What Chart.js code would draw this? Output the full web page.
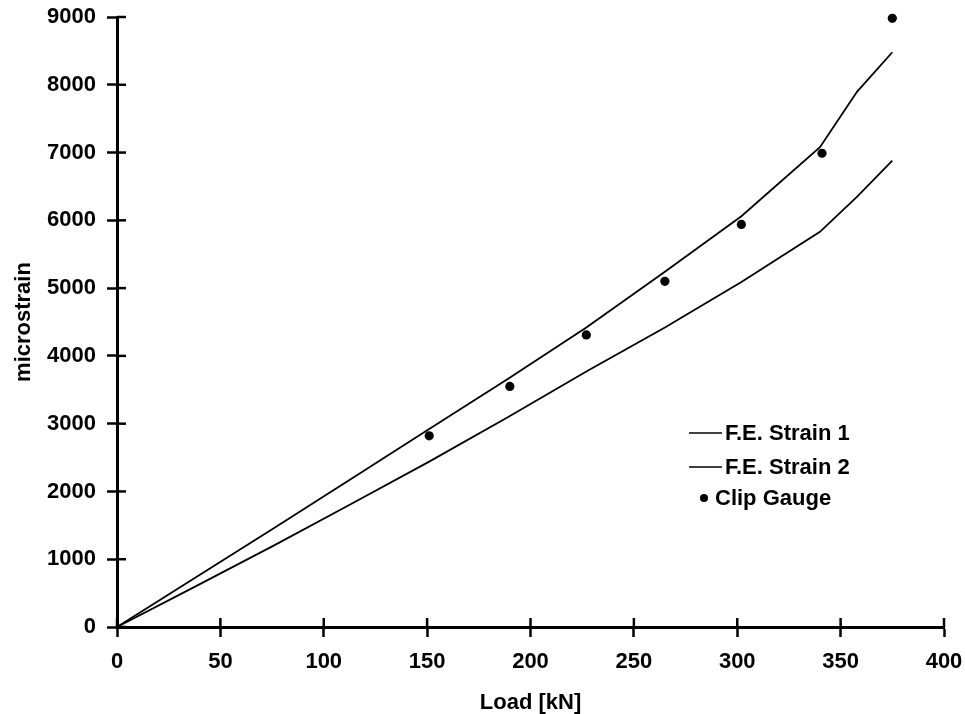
<!DOCTYPE html>
<html>
<head>
<meta charset="utf-8">
<script src="https://cdn.jsdelivr.net/npm/chart.js@4.4.1/dist/chart.umd.min.js"></script>
<style>
  html, body { margin: 0; padding: 0; background: #fff; }
  #wrap { width: 965px; height: 714px; }
</style>
</head>
<body>
<div id="wrap"><canvas id="c" width="965" height="714"></canvas></div>
<script>
// ---- data ----
const feLoad = [0, 38, 76, 113, 151, 189, 227, 265, 302, 340, 358, 375];
const feStrain1 = [0, 730, 1460, 2180, 2920, 3660, 4420, 5240, 6060, 7080, 7900, 8480];
const feStrain2 = [0, 600, 1205, 1810, 2440, 3095, 3770, 4420, 5090, 5830, 6350, 6880];
const clipLoad = [151, 190, 227, 265, 302, 341, 375];
const clipStrain = [2820, 3550, 4310, 5100, 5940, 6990, 8980];
const seriesLabels = ['F.E. Strain 1', 'F.E. Strain 2', 'Clip Gauge'];
const xTitle = 'Load [kN]';
const yTitle = 'microstrain';

const toXY = (xs, ys) => xs.map((x, i) => ({ x: x, y: ys[i] }));
const FONT = "'Liberation Sans', Arial, sans-serif";

// crossing ticks (inner half) drawn through the scales
const innerTicks = {
  id: 'innerTicks',
  afterDraw(chart) {
    const ctx = chart.ctx;
    const xs = chart.scales.x, ys = chart.scales.y;
    ctx.save();
    ctx.strokeStyle = '#000';
    ctx.lineWidth = 2.5;
    xs.ticks.forEach(t => {
      const px = xs.getPixelForValue(t.value);
      ctx.beginPath(); ctx.moveTo(px, xs.top); ctx.lineTo(px, xs.top - 9); ctx.stroke();
    });
    ys.ticks.forEach(t => {
      const py = ys.getPixelForValue(t.value);
      ctx.beginPath(); ctx.moveTo(ys.right, py); ctx.lineTo(ys.right + 9, py); ctx.stroke();
    });
    ctx.restore();
  }
};

// legend inside the plot
const innerLegend = {
  id: 'innerLegend',
  afterDraw(chart) {
    const ctx = chart.ctx;
    const ds = chart.data.datasets;
    ctx.save();
    ctx.fillStyle = '#000';
    ctx.strokeStyle = '#000';
    ctx.font = "bold 22px " + FONT;
    ctx.textBaseline = 'middle';
    ctx.textAlign = 'left';
    const rows = [433, 467, 498];
    ds.forEach((d, i) => {
      const y = rows[i];
      if (d.showLine) {
        ctx.lineWidth = 1.5;
        ctx.beginPath(); ctx.moveTo(689, y); ctx.lineTo(722, y); ctx.stroke();
        ctx.fillText(d.label, 725, y + 1);
      } else {
        ctx.beginPath(); ctx.arc(704, y, 4, 0, Math.PI * 2); ctx.fill();
        ctx.fillText(d.label, 715, y + 1);
      }
    });
    ctx.restore();
  }
};

const tickFont = { family: FONT, size: 22, weight: 'bold' };
const titleFont = { family: FONT, size: 22, weight: 'bold', lineHeight: 1.0 };
const plain = v => String(v);

new Chart(document.getElementById('c'), {
  type: 'scatter',
  data: {
    datasets: [
      { label: seriesLabels[0], data: toXY(feLoad, feStrain1), showLine: true, borderColor: '#000', borderWidth: 1.8, pointRadius: 0, tension: 0, clip: false },
      { label: seriesLabels[1], data: toXY(feLoad, feStrain2), showLine: true, borderColor: '#000', borderWidth: 1.8, pointRadius: 0, tension: 0, clip: false },
      { label: seriesLabels[2], data: toXY(clipLoad, clipStrain), showLine: false, backgroundColor: '#000', borderColor: '#000', pointRadius: 4.6, pointBorderWidth: 0, clip: false }
    ]
  },
  options: {
    responsive: false,
    animation: false,
    devicePixelRatio: 1,
    layout: { padding: { left: 0, right: 21, top: 17, bottom: 0 } },
    plugins: { legend: { display: false }, tooltip: { enabled: false } },
    scales: {
      x: {
        type: 'linear', min: 0, max: 400,
        ticks: { stepSize: 50, color: '#000', font: tickFont, padding: 12, maxRotation: 0, callback: plain },
        grid: { drawOnChartArea: false, drawTicks: true, tickLength: 10, tickWidth: 2.5, color: '#000' },
        border: { display: true, color: '#000', width: 3 },
        title: { display: true, text: xTitle, color: '#000', font: titleFont, padding: { top: 0, bottom: 0 } },
        afterFit(s) { s.height = 87; s.paddingLeft = 0; s.paddingRight = 0; }
      },
      y: {
        type: 'linear', min: 0, max: 9000,
        ticks: { stepSize: 1000, color: '#000', font: tickFont, padding: 11, callback: plain },
        grid: { drawOnChartArea: false, drawTicks: true, tickLength: 10, tickWidth: 2.5, color: '#000' },
        border: { display: true, color: '#000', width: 3 },
        title: { display: true, text: yTitle, color: '#000', font: titleFont, padding: { top: 13, bottom: 0 } },
        afterFit(s) { s.width = 117; s.paddingTop = 0; s.paddingBottom = 0; }
      }
    }
  },
  plugins: [innerTicks, innerLegend]
});
</script>
</body>
</html>
